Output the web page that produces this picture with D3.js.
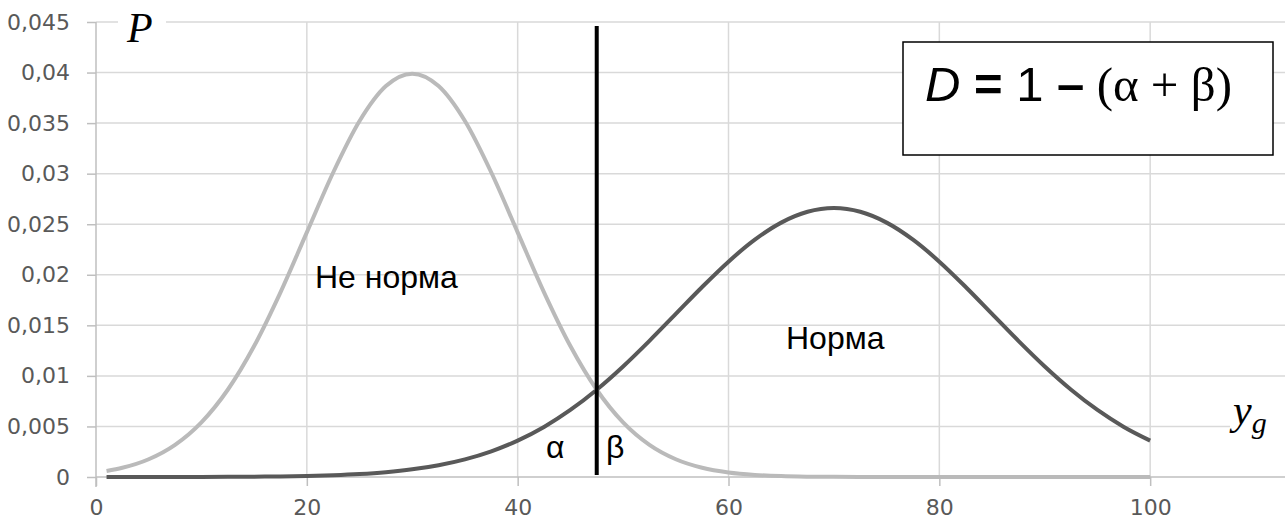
<!DOCTYPE html>
<html>
<head>
<meta charset="utf-8">
<script src="https://cdn.jsdelivr.net/npm/d3@7"></script>
<style>
  html, body { margin: 0; padding: 0; background: #fff; }
  svg { display: block; }
</style>
</head>
<body>
<svg id="chart" width="1285" height="526"></svg>
<script>
// Test score y_g (horizontal axis)
const xs = [1, 2.5, 5, 7.5, 10, 12.5, 15, 17.5, 20, 22.5, 25, 27.5, 30, 32.5, 35, 37.5, 40,
  42.5, 45, 47.5, 50, 52.5, 55, 57.5, 60, 62.5, 65, 67.5, 70, 72.5, 75, 77.5, 80,
  82.5, 85, 87.5, 90, 92.5, 95, 97.5, 100];

// Density P for the "Не норма" group
const notNormValues = [0.000595, 0.000910, 0.001753, 0.003174, 0.005399, 0.008628, 0.012952,
  0.018265, 0.024197, 0.030114, 0.035207, 0.038667, 0.039894, 0.038667, 0.035207, 0.030114,
  0.024197, 0.018265, 0.012952, 0.008628, 0.005399, 0.003174, 0.001753, 0.000910, 0.000443,
  0.000203, 0.000087, 0.000035, 0.000013, 0.000005, 0.000002, 0.000001, 0, 0, 0, 0, 0, 0, 0, 0, 0];

// Density P for the "Норма" group
const normValues = [0.000001, 0.000001, 0.000002, 0.000005, 0.000009, 0.000017, 0.000032,
  0.000058, 0.000103, 0.000177, 0.000295, 0.000480, 0.000760, 0.001169, 0.001748, 0.002544,
  0.003599, 0.004952, 0.006632, 0.008634, 0.010934, 0.013467, 0.016131, 0.018795, 0.021297,
  0.023471, 0.025159, 0.026229, 0.026596, 0.026229, 0.025159, 0.023471, 0.021297, 0.018795,
  0.016131, 0.013467, 0.010934, 0.008634, 0.006632, 0.004952, 0.003599];

const xTicks = [0, 20, 40, 60, 80, 100];
const xTickLabels = ["0", "20", "40", "60", "80", "100"];
const yTicks = [0, 0.005, 0.01, 0.015, 0.02, 0.025, 0.03, 0.035, 0.04, 0.045];
const yTickLabels = ["0", "0,005", "0,01", "0,015", "0,02", "0,025", "0,03", "0,035", "0,04", "0,045"];

// Decision threshold and its marker height
const threshold = 47.5;
const thresholdTop = 0.0446;

const svg = d3.select("#chart");
const W = 1285, H = 526;

const x = d3.scaleLinear().domain([0, 120]).range([96, 1361]);
const y = d3.scaleLinear().domain([0, 0.045]).range([477, 22]);

const gridColor = "#d9d9d9";
const axisColor = "#bfbfbf";
const labelColor = "#595959";
const tickFont = "'DejaVu Sans', sans-serif";

// Horizontal gridlines
svg.append("g")
  .selectAll("line")
  .data(yTicks.slice(1))
  .join("line")
  .attr("x1", x(0)).attr("x2", W)
  .attr("y1", d => y(d)).attr("y2", d => y(d))
  .attr("stroke", gridColor).attr("stroke-width", 1.5);

// Vertical gridlines
svg.append("g")
  .selectAll("line")
  .data(xTicks.slice(1))
  .join("line")
  .attr("x1", d => x(d)).attr("x2", d => x(d))
  .attr("y1", y(0.045)).attr("y2", y(0))
  .attr("stroke", gridColor).attr("stroke-width", 1.5);

// Y axis
const yAxis = svg.append("g")
  .attr("transform", `translate(${x(0)},0)`)
  .call(d3.axisLeft(y).tickValues(yTicks).tickSize(9).tickPadding(17)
    .tickFormat((d, i) => yTickLabels[i]));
yAxis.select(".domain").attr("stroke", axisColor).attr("stroke-width", 1.5)
  .attr("d", `M0,${y(0.045)}V${y(0) + 10}`);
yAxis.selectAll(".tick line").attr("stroke", axisColor).attr("stroke-width", 1.5);
yAxis.selectAll(".tick text")
  .attr("fill", labelColor).style("font-family", tickFont).style("font-size", "22px");

// X axis
const xAxis = svg.append("g")
  .attr("transform", `translate(0,${y(0)})`)
  .call(d3.axisBottom(x).tickValues(xTicks).tickSize(9).tickPadding(13)
    .tickFormat((d, i) => xTickLabels[i]));
xAxis.select(".domain").attr("stroke", axisColor).attr("stroke-width", 1.5)
  .attr("d", `M${x(0)},0H${W}`);
xAxis.selectAll(".tick line").attr("stroke", axisColor).attr("stroke-width", 1.5);
xAxis.selectAll(".tick text")
  .attr("fill", labelColor).style("font-family", tickFont).style("font-size", "22px");

// Density curves
const line = d3.line()
  .x((d, i) => x(xs[i]))
  .y(d => y(d))
  .curve(d3.curveMonotoneX);

svg.append("path")
  .datum(normValues)
  .attr("d", line)
  .attr("fill", "none")
  .attr("stroke", "#595959")
  .attr("stroke-width", 4)
  .attr("stroke-linejoin", "round");

svg.append("path")
  .datum(notNormValues)
  .attr("d", line)
  .attr("fill", "none")
  .attr("stroke", "#bababa")
  .attr("stroke-width", 4)
  .attr("stroke-linejoin", "round");

// Threshold line
svg.append("line")
  .attr("x1", x(threshold)).attr("x2", x(threshold))
  .attr("y1", y(thresholdTop)).attr("y2", y(0) - 2)
  .attr("stroke", "#000").attr("stroke-width", 4);

// Curve labels
const sansLabel = "'Liberation Sans', Arial, sans-serif";
svg.append("text")
  .attr("x", 315).attr("y", 288)
  .style("font-family", sansLabel).style("font-size", "32px")
  .attr("fill", "#000")
  .text("Не норма");

svg.append("text")
  .attr("x", 786).attr("y", 349)
  .style("font-family", sansLabel).style("font-size", "32px")
  .attr("fill", "#000")
  .text("Норма");

svg.append("text")
  .attr("x", 546).attr("y", 458)
  .style("font-family", sansLabel).style("font-size", "32px")
  .text("α");

svg.append("text")
  .attr("x", 606).attr("y", 458)
  .style("font-family", sansLabel).style("font-size", "32px")
  .text("β");

// Axis titles
const serif = "'Liberation Serif', 'Times New Roman', serif";
svg.append("rect").attr("x", 118).attr("y", 10).attr("width", 48).attr("height", 36).attr("fill", "#fff");
svg.append("text")
  .attr("x", 127).attr("y", 42)
  .style("font-family", serif).style("font-style", "italic").style("font-size", "42px")
  .text("P");

svg.append("rect").attr("x", 1230).attr("y", 398).attr("width", 55).attr("height", 40).attr("fill", "#fff");
const yg = svg.append("text")
  .attr("x", 1233).attr("y", 424)
  .style("font-family", serif).style("font-style", "italic").style("font-size", "42px");
yg.append("tspan").text("y");
yg.append("tspan").attr("dy", 9).style("font-size", "30px").text("g");

// Formula box
svg.append("rect")
  .attr("x", 903).attr("y", 42).attr("width", 370).attr("height", 113)
  .attr("fill", "#fff").attr("stroke", "#000").attr("stroke-width", 1.5);

const formula = svg.append("text")
  .attr("x", 925).attr("y", 101)
  .style("font-size", "49px");
formula.append("tspan").style("font-family", sansLabel).style("font-style", "italic").text("D");
formula.append("tspan").style("font-family", sansLabel).style("font-weight", "bold").text(" = ");
formula.append("tspan").style("font-family", sansLabel).text("1 ");
formula.append("tspan").style("font-family", sansLabel).style("font-weight", "bold").text("–");
formula.append("tspan").style("font-family", serif).text(" (α + β)");
</script>
</body>
</html>
